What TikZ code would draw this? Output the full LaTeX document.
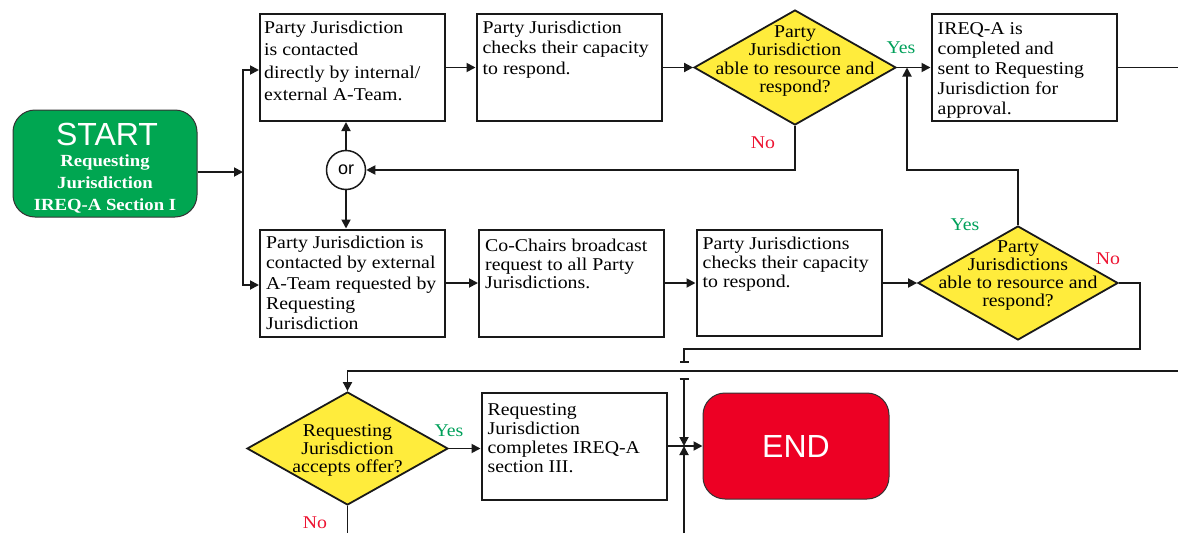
\documentclass[tikz,border=0pt]{standalone}
\usepackage{fontspec}
\setmainfont[FakeStretch=1.1]{Liberation Serif}
\setsansfont{Liberation Sans}
\usetikzlibrary{arrows.meta,shapes.geometric}
\definecolor{startgreen}{RGB}{0,166,81}
\definecolor{endred}{RGB}{237,0,36}
\definecolor{decyellow}{RGB}{255,236,60}
\definecolor{yesgreen}{RGB}{0,160,90}
\definecolor{nored}{RGB}{237,20,50}
\begin{document}
\begin{tikzpicture}[x=1pt,y=-1pt,
  >={Triangle[length=9pt,width=9pt]},
  box/.style={draw=black!90, line width=2pt, fill=white, minimum width=185pt, minimum height=107pt, inner sep=0pt},
  boxtxt/.style n args={2}{anchor=north west, inner sep=0pt, align=left, xshift=7pt, yshift={12.3pt-#2pt}, font=\fontsize{18}{#1}\selectfont},
  dec/.style={draw=black!90, line width=1.8pt, fill=decyellow, shape=diamond, inner sep=0pt},
  dectxt/.style={align=center, inner sep=0pt, font=\fontsize{18}{#1}\selectfont},
  term/.style={draw=black!80, line width=1pt, rounded corners=22pt, inner sep=0pt},
  conn/.style={line width=1.8pt, draw=black!90},
  yeslbl/.style={text=yesgreen, anchor=base, inner sep=0pt, font=\fontsize{18}{18}\selectfont},
  nolbl/.style={text=nored, anchor=base, inner sep=0pt, font=\fontsize{18}{18}\selectfont}
]
\useasboundingbox (0,0) rectangle (1178,533);

% START
\node[term, fill=startgreen, minimum width=184pt, minimum height=107pt] (start) at (105,163.5) {};
\node[anchor=base, inner sep=0pt, text=white, font=\sffamily\fontsize{32}{32}\selectfont] (starttitle) at (107,145) {START};
\node[anchor=north, inner sep=0pt, align=center, text=white, font=\bfseries\fontsize{17}{22}\selectfont] (startsub) at (105,154.5) {Requesting\\Jurisdiction\\IREQ-A Section I};

% boxes
\node[box] (b1) at (352.5,67.5) {};
\node[boxtxt={22.4}{20}, xshift=-2pt] (b1t) at (b1.north west) {Party Jurisdiction\\is contacted\\directly by internal/\\external A-Team.};
\node[box] (b2) at (569,67.5) {};
\node[boxtxt={20.5}{20}] (b2t) at (b2.north west) {Party Jurisdiction\\checks their capacity\\to respond.};
\node[box] (b3) at (1024,67.5) {};
\node[boxtxt={20}{21.5}] (b3t) at (b3.north west) {IREQ-A is\\completed and\\sent to Requesting\\Jurisdiction for\\approval.};
\node[box] (b5) at (352.5,283) {};
\node[boxtxt={20.4}{19.5}] (b5t) at (b5.north west) {Party Jurisdiction is\\contacted by external\\A-Team requested by\\Requesting\\Jurisdiction};
\node[box] (b6) at (571.5,283) {};
\node[boxtxt={18.5}{23}] (b6t) at (b6.north west) {Co-Chairs broadcast\\request to all Party\\Jurisdictions.};
\node[box, minimum height=106pt] (b7) at (789,283) {};
\node[boxtxt={19.3}{20}] (b7t) at (b7.north west) {Party Jurisdictions\\checks their capacity\\to respond.};
\node[box] (b8) at (574,446) {};
\node[boxtxt={19}{24}] (b8t) at (b8.north west) {Requesting\\Jurisdiction\\completes IREQ-A\\section III.};

% decisions
\node[dec, minimum width=202pt, minimum height=115pt] (d1) at (795,67.5) {};
\node[dectxt=18.5] (d1t) at (795,61) {Party\\Jurisdiction\\able to resource and\\respond?};
\node[dec, minimum width=200pt, minimum height=114pt] (d2) at (1018,283) {};
\node[dectxt=17.9] (d2t) at (1018,275.7) {Party\\Jurisdictions\\able to resource and\\respond?};
\node[dec, minimum width=201pt, minimum height=113pt] (d3) at (347.5,448.5) {};
\node[dectxt=18] (d3t) at (347.5,450.5) {Requesting\\Jurisdiction\\accepts offer?};

% or
\node[circle, draw=black!90, line width=1.5pt, fill=white, minimum size=39pt, inner sep=0pt, font=\sffamily\fontsize{18}{18}\selectfont] (or) at (346,170) {or};

% END
\node[term, fill=endred, minimum width=186pt, minimum height=106pt, text=white, font=\sffamily\fontsize{32}{32}\selectfont] (end) at (796,446) {END};

% coordinates
\coordinate (trunkmid) at (243,172);
\coordinate (trunktop) at (243,70);
\coordinate (trunkbot) at (243,285);
\coordinate (re1) at (1178,67.5);
\coordinate (re2) at (1178,371);
\coordinate (j1) at (907,170);
\coordinate (n1) at (1140,349);
\coordinate (hopA) at (684,363);
\coordinate (hopB) at (684,378);
\coordinate (bot) at (684,533);
\coordinate (bot3) at (347.5,533);

% connectors
\draw[conn,->] (start.east |- trunkmid) -- (trunkmid);
\draw[conn,->] (trunkmid) |- (b1.west |- trunktop);
\draw[conn,->] (trunkmid) |- (b5.west |- trunkbot);
\draw[conn,->] (b1) -- (b2);
\draw[conn,->] (b2) -- (d1);
\draw[conn,->] (d1) -- (b3);
\draw[conn] (b3.east) -- (re1);
\draw[conn,->] (d1.south) |- (or.east);
\draw[conn,->] (or.north) -- (or.north |- b1.south);
\draw[conn,->] (or.south) -- (or.south |- b5.north);
\draw[conn,->] (b5) -- (b6);
\draw[conn,->] (b6) -- (b7);
\draw[conn,->] (b7) -- (d2);
\draw[conn,->] (d2.north) |- (j1) -- (j1 |- d1.east);
\draw[conn,-{Bar[width=9pt]}] (d2.east) -| (n1) -| (hopA);
\draw[conn,{Bar[width=9pt]}->] (hopB) -- (hopB |- end.west);
\draw[conn,->] (bot) -- (bot |- end.west);
\draw[conn,->] (re2) -| (d3.north);
\draw[conn,->] (d3.east) -- (d3.east -| b8.west);
\draw[conn,->] (b8) -- (end);
\draw[conn] (d3.south) -- (bot3);

% labels
\node[yeslbl] (y1) at (901,53) {Yes};
\node[nolbl] (no1) at (763,148) {No};
\node[yeslbl] (y2) at (965,230) {Yes};
\node[nolbl] (no2) at (1108,264) {No};
\node[yeslbl] (y3) at (449,436) {Yes};
\node[nolbl] (no3) at (315,528) {No};
\end{tikzpicture}
\end{document}
